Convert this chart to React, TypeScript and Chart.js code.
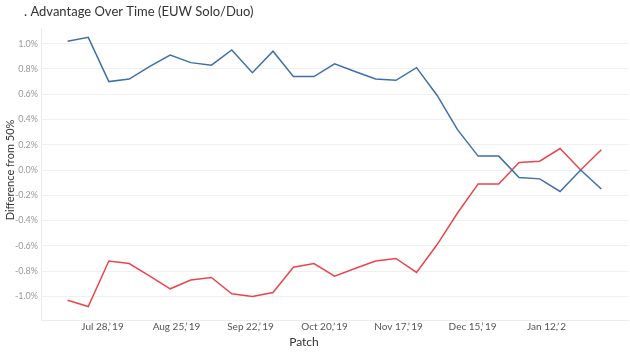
import React, { useEffect, useRef } from "react";
import { Chart, registerables } from "chart.js";
Chart.register(...registerables);

// x = days relative to Jul 28, 2019
const xDays = [-13.2, -5.4, 2.4, 10.1, 17.9, 25.6, 33.4, 41.2, 48.9, 56.7, 64.5, 72.2, 80.0, 87.8, 95.5, 103.3, 111.0, 118.8, 126.6, 134.3, 142.1, 149.9, 157.6, 165.4, 173.1, 180.9, 188.7];
const blueValues = [1.02, 1.05, 0.70, 0.72, 0.82, 0.91, 0.85, 0.83, 0.95, 0.77, 0.94, 0.74, 0.74, 0.84, 0.78, 0.72, 0.71, 0.81, 0.59, 0.32, 0.11, 0.11, -0.06, -0.07, -0.17, 0.0, -0.15];
const redValues = [-1.03, -1.08, -0.72, -0.74, -0.84, -0.94, -0.87, -0.85, -0.98, -1.0, -0.97, -0.77, -0.74, -0.84, -0.78, -0.72, -0.70, -0.81, -0.59, -0.34, -0.11, -0.11, 0.06, 0.07, 0.17, 0.0, 0.16];
const xTickDays = [0, 28, 56, 84, 112, 140, 168];
const xTickLabels = ["Jul 28,\u2019\u200919", "Aug 25,\u2019\u200919", "Sep 22,\u2019\u200919", "Oct 20,\u2019\u200919", "Nov 17,\u2019\u200919", "Dec 15,\u2019\u200919", "Jan 12,\u2019\u20092"];
const yTicks = [-1.0, -0.8, -0.6, -0.4, -0.2, 0, 0.2, 0.4, 0.6, 0.8, 1.0];

const FONT = "Lato, 'Open Sans', sans-serif";

export default function App() {
  const ref = useRef<HTMLCanvasElement | null>(null);
  useEffect(() => {
    document.body.style.margin = "0";
    const canvas = ref.current!;
    const textPlugin = {
      id: "texts",
      afterDraw(chart: any) {
        const ctx = chart.ctx;
        ctx.save();
        ctx.fillStyle = "#333";
        ctx.font = `13px ${FONT}`;
        ctx.textBaseline = "middle";
        ctx.textAlign = "left";
        ctx.fillText(". Advantage Over Time (EUW Solo/Duo)", 24, 12);
        ctx.font = `12px ${FONT}`;
        ctx.textAlign = "center";
        ctx.fillText("Patch", 304, 342);
        ctx.font = `11px ${FONT}`;
        ctx.translate(10, 170);
        ctx.rotate(-Math.PI / 2);
        ctx.fillText("Difference from 50%", 0, 0);
        ctx.restore();
      },
    };
    const chart = new Chart(canvas, {
      type: "line",
      data: {
        datasets: [
          {
            label: "Blue",
            data: xDays.map((x, i) => ({ x, y: blueValues[i] })),
            borderColor: "#3f6fab",
            borderWidth: 1.5,
            pointRadius: 0,
            tension: 0,
          },
          {
            label: "Red",
            data: xDays.map((x, i) => ({ x, y: redValues[i] })),
            borderColor: "#e8464c",
            borderWidth: 1.5,
            pointRadius: 0,
            tension: 0,
          },
        ],
      },
      options: {
        animation: false,
        responsive: false,
        devicePixelRatio: 1,
        layout: { padding: { top: 28, right: 2, left: 0, bottom: 0 } },
        plugins: { legend: { display: false }, tooltip: { enabled: false }, title: { display: false } },
        scales: {
          x: {
            type: "linear",
            min: -23.27,
            max: 198.8,
            afterBuildTicks: (s: any) => {
              s.ticks = xTickDays.map((v) => ({ value: v }));
            },
            afterFit: (s: any) => {
              s.height = 33;
            },
            grid: { display: false, drawTicks: false },
            border: { display: true, color: "#ececec", width: 1 },
            ticks: {
              padding: 1,
              maxRotation: 0,
              autoSkip: false,
              color: "#555",
              font: { family: FONT, size: 10 },
              callback: (v: any) => {
                const i = xTickDays.indexOf(Number(v));
                return i >= 0 ? xTickLabels[i] : "";
              },
            },
          },
          y: {
            type: "linear",
            min: -1.187,
            max: 1.124,
            afterBuildTicks: (s: any) => {
              s.ticks = yTicks.map((v) => ({ value: v }));
            },
            afterFit: (s: any) => {
              s.width = 41;
            },
            grid: { color: "#f0f0f0", drawTicks: false, lineWidth: 1 },
            border: { display: true, color: "#ececec", width: 1 },
            ticks: {
              padding: 3,
              color: "#9a9a9a",
              font: { family: FONT, size: 9 },
              callback: (v: any) => Number(v).toFixed(1) + "%",
            },
          },
        },
      },
      plugins: [textPlugin],
    });
    return () => chart.destroy();
  }, []);
  return (
    <div style={{ position: "fixed", left: 0, top: 0, width: 630, height: 353, background: "#fff" }}>
      <canvas ref={ref} width={630} height={353} style={{ width: 630, height: 353 }} />
    </div>
  );
}
